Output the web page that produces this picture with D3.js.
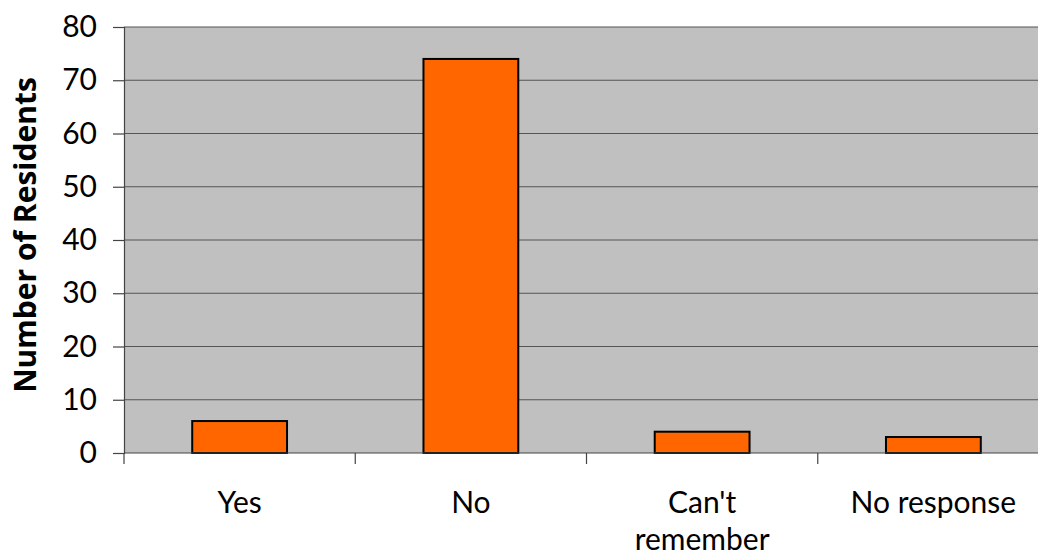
<!DOCTYPE html>
<html>
<head>
<meta charset="utf-8">
<script src="https://cdn.jsdelivr.net/npm/d3@7"></script>
<style>
  html, body { margin: 0; padding: 0; background: #fff; }
  svg { display: block; font-family: Lato, sans-serif; }
</style>
</head>
<body>
<svg id="chart" width="1038" height="556"></svg>
<script>
// Survey responses: number of residents per answer
const categories = ["Yes", "No", "Can't remember", "No response"];
const residents = [6, 74, 4, 3];
const yTicks = [0, 10, 20, 30, 40, 50, 60, 70, 80];

const svg = d3.select("#chart");
const margin = { left: 124, top: 27, right: -11, bottom: 103 };
const W = 1038, H = 556;
const plotW = W - margin.left - margin.right;
const plotH = H - margin.top - margin.bottom;

const x = d3.scaleBand().domain(categories).range([0, plotW]).paddingInner(0.59).paddingOuter(0.295);
const y = d3.scaleLinear().domain([0, 80]).range([plotH, 0]);

const g = svg.append("g").attr("transform", `translate(${margin.left},${margin.top})`);

// plot background
g.append("rect").attr("x", 0).attr("y", 0).attr("width", plotW).attr("height", plotH).attr("fill", "#c0c0c0");

// horizontal gridlines
g.selectAll("line.grid").data(yTicks.filter(d => d > 0)).enter().append("line")
  .attr("class", "grid")
  .attr("x1", 0).attr("x2", plotW)
  .attr("y1", d => y(d)).attr("y2", d => y(d))
  .attr("stroke", "#555").attr("stroke-width", 1.2);

// bars
g.selectAll("rect.bar").data(categories).enter().append("rect")
  .attr("class", "bar")
  .attr("x", d => x(d))
  .attr("y", (d, i) => y(residents[i]))
  .attr("width", x.bandwidth())
  .attr("height", (d, i) => plotH - y(residents[i]))
  .attr("fill", "#ff6600").attr("stroke", "#000").attr("stroke-width", 2);

// y axis
const yAxis = g.append("g").call(d3.axisLeft(y).tickValues(yTicks).tickSize(11).tickPadding(16));
yAxis.select(".domain").attr("stroke", "#444").attr("stroke-width", 1.2);
yAxis.selectAll(".tick line").attr("stroke", "#444").attr("stroke-width", 1.2);
yAxis.selectAll(".tick text").attr("font-size", 30).attr("fill", "#000")
  .attr("font-family", "Lato, sans-serif");

// x axis: ticks sit on band boundaries
const xAxisG = g.append("g").attr("transform", `translate(0,${plotH})`);
xAxisG.append("line").attr("x1", 0).attr("x2", plotW).attr("stroke", "#444").attr("stroke-width", 1.2);
const bounds = d3.range(categories.length).map(i => i * plotW / categories.length);
xAxisG.selectAll("line.xt").data(bounds).enter().append("line")
  .attr("class", "xt")
  .attr("x1", d => d).attr("x2", d => d).attr("y1", 0).attr("y2", 11)
  .attr("stroke", "#444").attr("stroke-width", 1.2);

// category labels, wrapped where needed
const labelLines = { "Can't remember": ["Can't", "remember"] };
categories.forEach(c => {
  const lines = labelLines[c] || [c];
  const cx = x(c) + x.bandwidth() / 2;
  const t = xAxisG.append("text")
    .attr("x", cx)
    .attr("y", 60)
    .attr("text-anchor", "middle")
    .attr("font-size", 30).attr("fill", "#000");
  lines.forEach((l, i) => t.append("tspan").attr("x", cx).attr("dy", i === 0 ? 0 : 37).text(l));
});

// y axis title
svg.append("text")
  .attr("transform", "translate(36,235) rotate(-90)")
  .attr("text-anchor", "middle")
  .attr("font-family", "'Open Sans', sans-serif")
  .attr("font-size", 30).attr("font-weight", "bold").attr("fill", "#000")
  .text("Number of Residents");
</script>
</body>
</html>
